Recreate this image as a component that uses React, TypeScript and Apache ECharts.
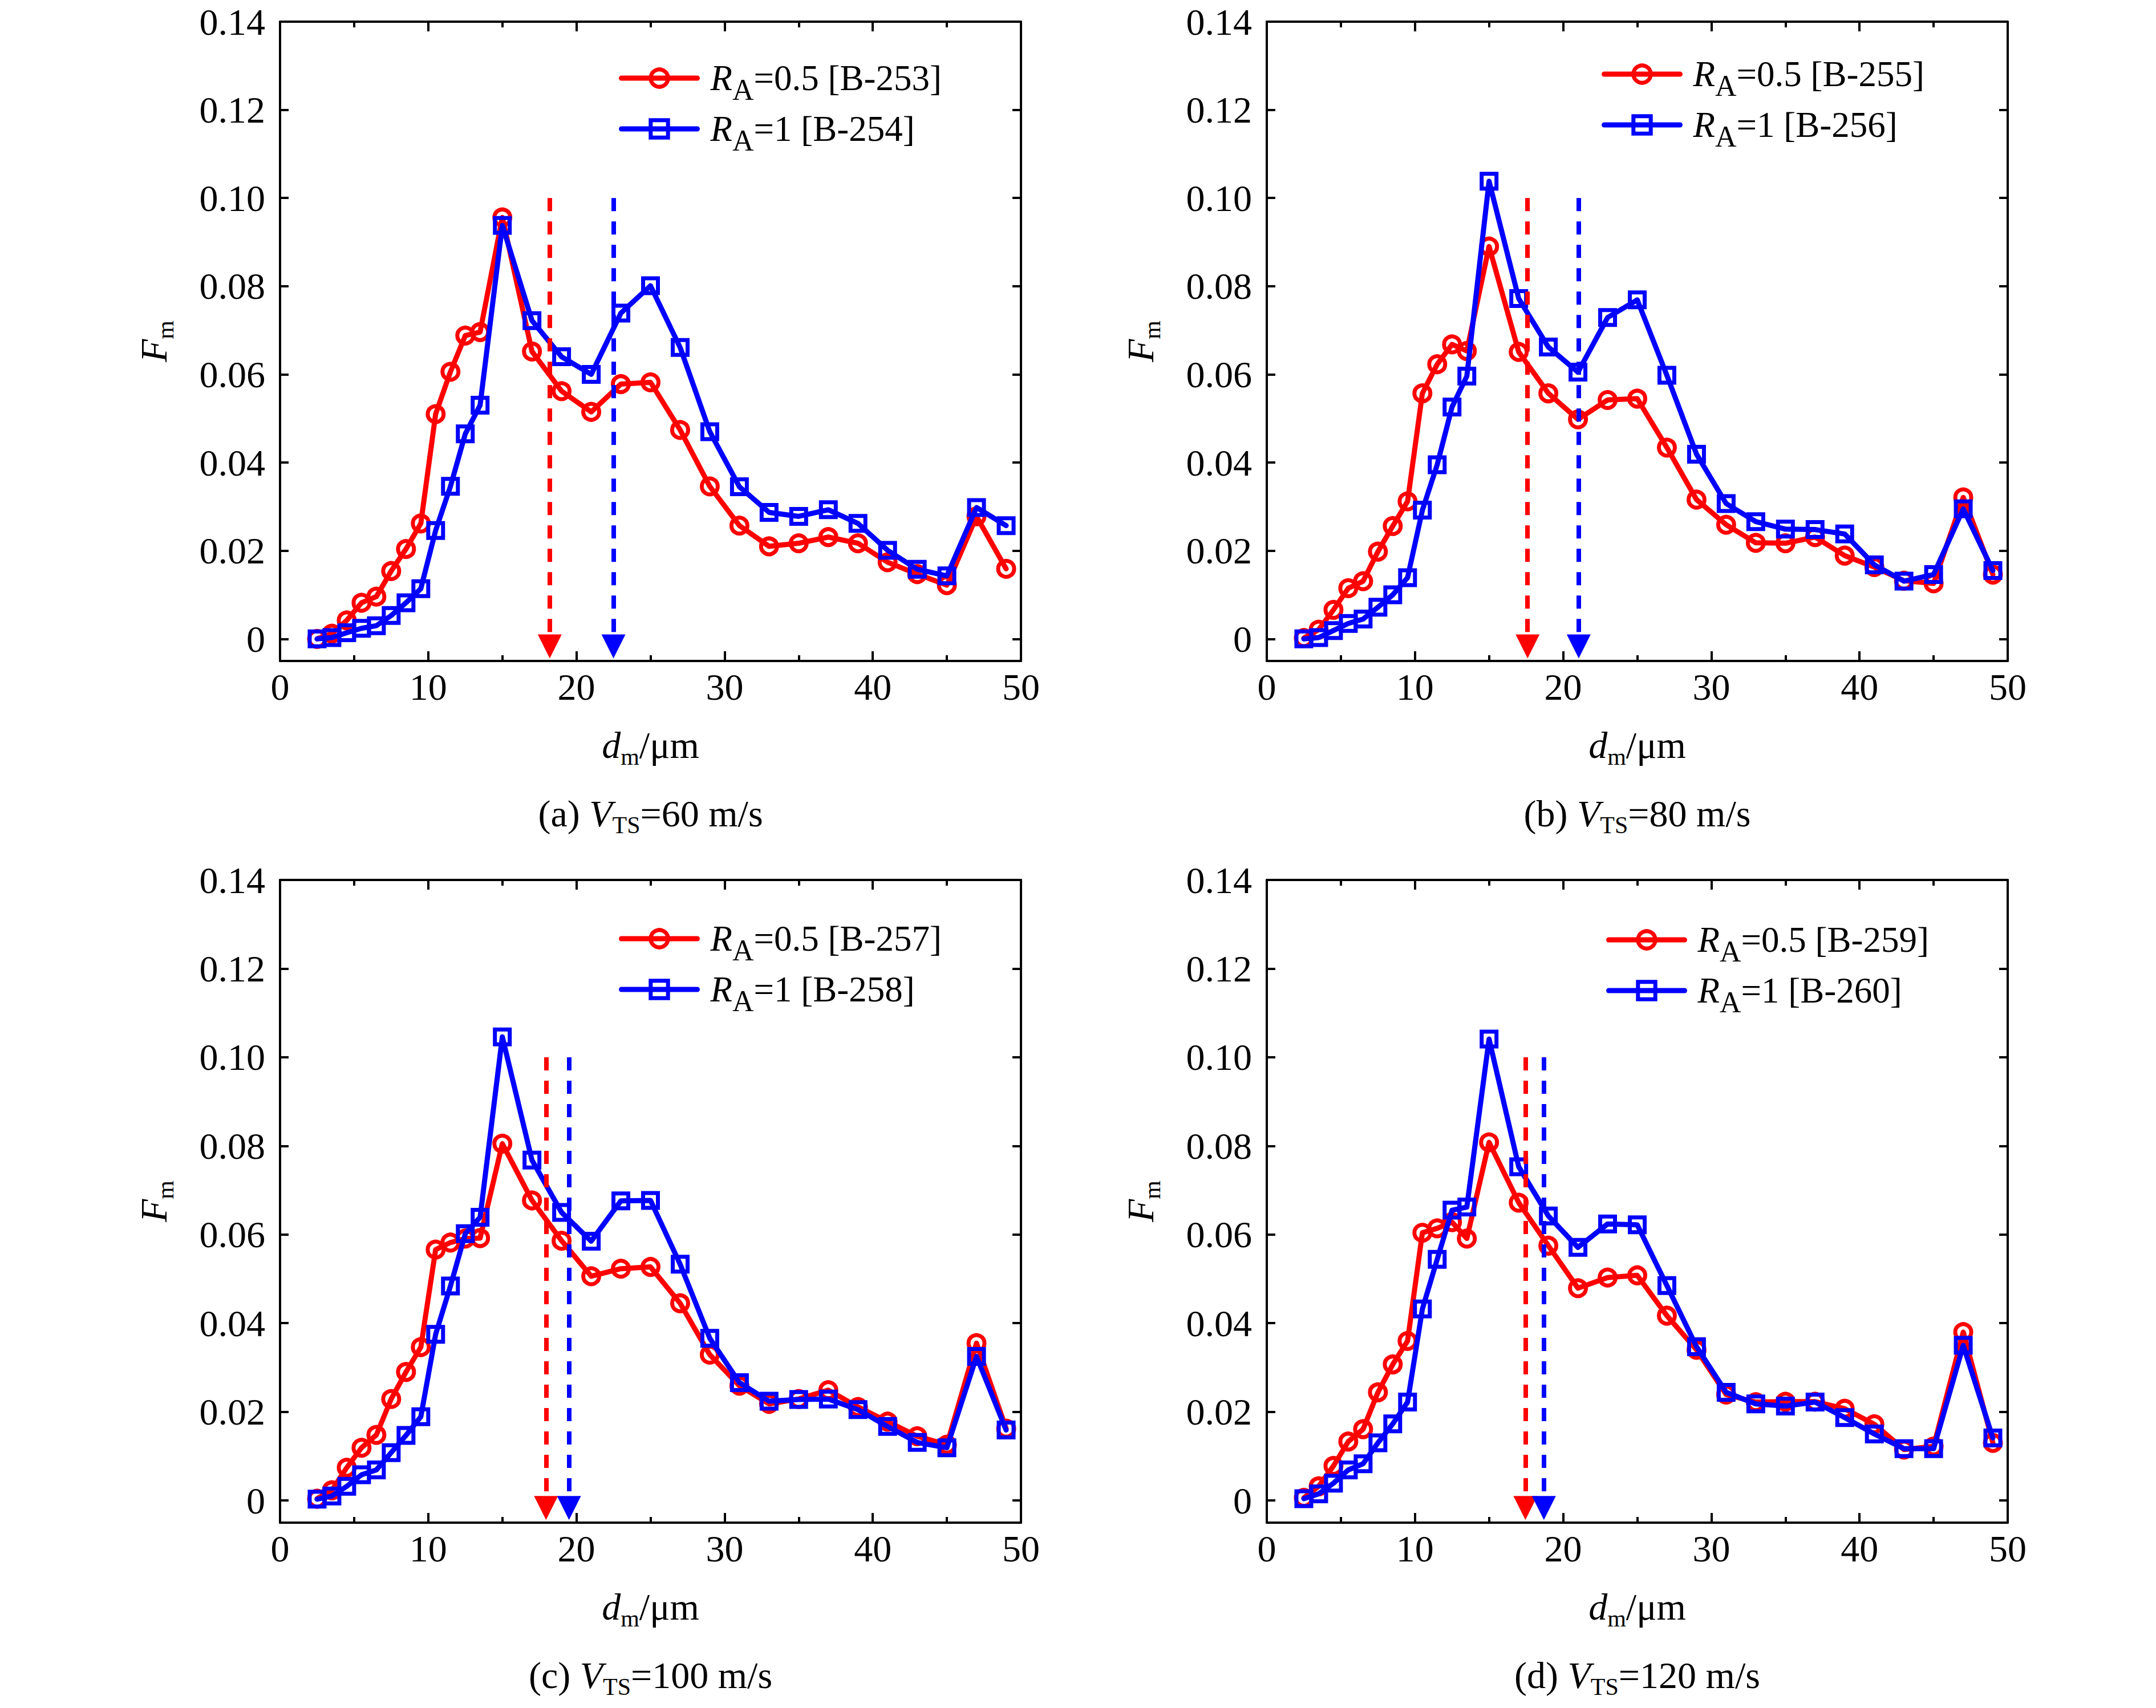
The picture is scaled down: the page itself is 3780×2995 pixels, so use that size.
import React, { useEffect, useRef } from 'react';
import * as echarts from 'echarts';

// ---------- data ----------
const D_M = [2.5, 3.5, 4.5, 5.5, 6.5, 7.5, 8.5, 9.5, 10.5, 11.5, 12.5, 13.5, 15, 17, 19, 21, 23, 25, 27, 29, 31, 33, 35, 37, 39, 41, 43, 45, 47, 49];

const FM_A_RA05 = [0, 0.0012, 0.0042, 0.0082, 0.0096, 0.0154, 0.0204, 0.0262, 0.051, 0.0606, 0.0688, 0.0696, 0.0956, 0.0652, 0.0562, 0.0515, 0.0578, 0.0582, 0.0474, 0.0346, 0.0257, 0.021, 0.0217, 0.0231, 0.0217, 0.0174, 0.0147, 0.0122, 0.0278, 0.0159];
const FM_A_RA1 = [0, 0.0003, 0.0014, 0.0024, 0.003, 0.0053, 0.0082, 0.0114, 0.0246, 0.0346, 0.0465, 0.053, 0.0938, 0.0722, 0.064, 0.06, 0.0739, 0.0801, 0.0661, 0.047, 0.0345, 0.0287, 0.0278, 0.0293, 0.0262, 0.0201, 0.0158, 0.0143, 0.0298, 0.0257];

const FM_B_RA05 = [0.0002, 0.0021, 0.0066, 0.0115, 0.0131, 0.0198, 0.0256, 0.0312, 0.0557, 0.0623, 0.0668, 0.0653, 0.089, 0.0651, 0.0557, 0.0498, 0.0542, 0.0545, 0.0434, 0.0316, 0.0259, 0.0218, 0.0217, 0.0231, 0.0189, 0.0163, 0.0132, 0.0126, 0.0321, 0.0146];
const FM_B_RA1 = [0, 0.0003, 0.0019, 0.0035, 0.0045, 0.0072, 0.01, 0.0139, 0.0292, 0.0395, 0.0526, 0.0596, 0.1038, 0.0772, 0.0662, 0.0605, 0.0729, 0.0769, 0.0598, 0.0419, 0.0307, 0.0266, 0.0249, 0.0248, 0.0238, 0.0168, 0.0131, 0.0146, 0.0295, 0.0155];

const FM_C_RA05 = [0.0004, 0.0023, 0.0074, 0.0119, 0.0148, 0.0229, 0.029, 0.0346, 0.0566, 0.0582, 0.0591, 0.0592, 0.0805, 0.0677, 0.0586, 0.0506, 0.0523, 0.0527, 0.0445, 0.0329, 0.0259, 0.0218, 0.0229, 0.0249, 0.0211, 0.0178, 0.0145, 0.0126, 0.0355, 0.0162];
const FM_C_RA1 = [0.0003, 0.001, 0.0032, 0.0058, 0.0069, 0.0108, 0.0147, 0.0189, 0.0375, 0.0484, 0.0602, 0.0639, 0.1046, 0.0768, 0.065, 0.0585, 0.0676, 0.0677, 0.0533, 0.0366, 0.0266, 0.0224, 0.0228, 0.0229, 0.0205, 0.0167, 0.0131, 0.0119, 0.0325, 0.0159];

const FM_D_RA05 = [0.0006, 0.0032, 0.0078, 0.0133, 0.0161, 0.0244, 0.0307, 0.036, 0.0604, 0.0614, 0.0628, 0.0591, 0.0808, 0.0672, 0.0575, 0.0479, 0.0503, 0.0508, 0.0417, 0.034, 0.0239, 0.0222, 0.0223, 0.0223, 0.0207, 0.0172, 0.0115, 0.0122, 0.038, 0.013];
const FM_D_RA1 = [0.0004, 0.0015, 0.0039, 0.0069, 0.0083, 0.013, 0.0173, 0.0222, 0.0432, 0.0544, 0.0655, 0.0662, 0.1041, 0.0753, 0.0642, 0.0571, 0.0624, 0.0622, 0.0485, 0.0347, 0.0244, 0.0218, 0.0213, 0.0222, 0.0187, 0.015, 0.0117, 0.0117, 0.035, 0.0141];

const PANEL_LETTERS = ['a', 'b', 'c', 'd'];
const SPEEDS = [60, 80, 100, 120];
const CASES_RA05 = ['B-253', 'B-255', 'B-257', 'B-259'];
const CASES_RA1 = ['B-254', 'B-256', 'B-258', 'B-260'];
const SERIES_RA05 = [FM_A_RA05, FM_B_RA05, FM_C_RA05, FM_D_RA05];
const SERIES_RA1 = [FM_A_RA1, FM_B_RA1, FM_C_RA1, FM_D_RA1];

// mean-size arrows (x position in µm), from F = 0.10 down to the axis
const ARROW_X_RA05 = [18.2, 17.6, 17.95, 17.45];
const ARROW_X_RA1 = [22.5, 21.05, 19.5, 18.7];
const ARROW_TOP = 0.1;

const Y_TICKS = [0, 0.02, 0.04, 0.06, 0.08, 0.1, 0.12, 0.14];
const Y_MIN = -0.005;
const Y_MAX = 0.14;
const X_MIN = 0;
const X_MAX = 50;
const X_INTERVAL = 10;

// ---------- layout / style ----------
const FONT = '"Liberation Serif", "Times New Roman", serif';
const RED = '#ff0000';
const BLUE = '#0000ff';
const GRID_LEFT = [491, 2221, 491, 2221];
const GRID_TOP = [38, 38, 1543, 1543];
const GRID_W = 1299;
const GRID_H = [1121, 1121, 1127, 1127];
const LEGEND_LEFT = [1085, 2808, 1085, 2816];
const LEGEND_TOP = [91, 84, 1600, 1602];
const CAPTION_TOP = [1391, 1391, 2902, 2902];
const ARROW_END = -0.0017;
const LINE_W = 9;
const MARK_W = 7;

const FS = 66;
const LH = 70;
const richAxis = {
  i: { fontFamily: FONT, fontSize: FS, fontStyle: 'italic', fontWeight: 'normal', color: '#000', lineHeight: LH },
  s: { fontFamily: FONT, fontSize: 42, fontWeight: 'normal', color: '#000', lineHeight: LH, padding: [42, 0, 0, 0] },
  n: { fontFamily: FONT, fontSize: FS, fontWeight: 'normal', color: '#000', lineHeight: LH },
};
const LFS = 63;
const richLegend = {
  r: { fontFamily: FONT, fontSize: LFS, fontStyle: 'italic', fontWeight: 'normal', color: '#000', lineHeight: LH, padding: [0, 0, 0, 18] },
  s: { fontFamily: FONT, fontSize: 52, fontWeight: 'normal', color: '#000', lineHeight: LH, padding: [40, 0, 0, 0] },
  n: { fontFamily: FONT, fontSize: LFS, fontWeight: 'normal', color: '#000', lineHeight: LH },
};

const fmtY = (v: number) => (Math.abs(v) < 1e-9 ? '0' : v.toFixed(2));

function buildOption() {
  const grid: any[] = [];
  const xAxis: any[] = [];
  const yAxis: any[] = [];
  const series: any[] = [];
  const legend: any[] = [];
  const title: any[] = [];

  for (let p = 0; p < 4; p++) {
    grid.push({ left: GRID_LEFT[p], top: GRID_TOP[p], width: GRID_W, height: GRID_H[p], containLabel: false });

    const axisLine = { show: true, onZero: false, lineStyle: { color: '#000', width: 4 } };
    ['bottom', 'top'].forEach((pos) => {
      xAxis.push({
        type: 'value',
        gridIndex: p,
        position: pos,
        min: X_MIN,
        max: X_MAX,
        interval: X_INTERVAL,
        axisLine,
        axisTick: { show: true, inside: true, length: 17, lineStyle: { color: '#000', width: 4 } },
        minorTick: { show: true, splitNumber: 2, length: 10, lineStyle: { color: '#000', width: 4 } },
        axisLabel: { show: pos === 'bottom', fontFamily: FONT, fontSize: FS, color: '#000', margin: 20, lineHeight: 50 },
        splitLine: { show: false },
        minorSplitLine: { show: false },
        name: pos === 'bottom' ? '{i|d}{s|m}{n|/μm}' : '',
        nameLocation: 'middle',
        nameGap: 112,
        nameTextStyle: { rich: richAxis, fontFamily: FONT, fontSize: FS, fontWeight: 'normal', color: '#000' },
      });
    });
    ['left', 'right'].forEach((pos) => {
      yAxis.push({
        type: 'value',
        gridIndex: p,
        position: pos,
        min: Y_MIN,
        max: Y_MAX,
        axisLine,
        axisTick: { show: true, inside: true, length: 15, lineStyle: { color: '#000', width: 4 }, customValues: Y_TICKS },
        axisLabel: {
          show: pos === 'left',
          customValues: Y_TICKS,
          formatter: fmtY,
          fontFamily: FONT,
          fontSize: FS,
          color: '#000',
          margin: 26,
          lineHeight: 50,
        },
        splitLine: { show: false },
        name: pos === 'left' ? '{i|F}{s|m}' : '',
        nameLocation: 'middle',
        nameGap: 187,
        nameRotate: 90,
        nameTextStyle: { rich: richAxis, fontFamily: FONT, fontSize: FS, fontWeight: 'normal', color: '#000' },
      });
    });

    const nameRed = `RA=0.5 [${CASES_RA05[p]}]`;
    const nameBlue = `RA=1 [${CASES_RA1[p]}]`;

    const arrow = (x: number, color: string) => ({
      silent: true,
      animation: false,
      symbol: ['none', 'triangle'],
      symbolSize: 42,
      label: { show: false },
      emphasis: { disabled: true },
      lineStyle: { color, width: 8, type: [23, 18], opacity: 1 },
      data: [[{ coord: [x, ARROW_TOP] }, { coord: [x, ARROW_END] }]],
    });

    series.push({
      type: 'line',
      name: nameRed,
      xAxisIndex: p * 2,
      yAxisIndex: p * 2,
      data: D_M.map((x, j) => [x, SERIES_RA05[p][j]]),
      symbol: 'circle',
      symbolSize: 28,
      showAllSymbol: true,
      lineStyle: { color: RED, width: LINE_W, cap: 'round', join: 'round' },
      itemStyle: { color: 'transparent', borderColor: RED, borderWidth: MARK_W },
      emphasis: { disabled: true },
      markLine: arrow(ARROW_X_RA05[p], RED),
      z: 2,
    });
    series.push({
      type: 'line',
      name: nameBlue,
      xAxisIndex: p * 2,
      yAxisIndex: p * 2,
      data: D_M.map((x, j) => [x, SERIES_RA1[p][j]]),
      symbol: 'rect',
      symbolSize: 26,
      showAllSymbol: true,
      lineStyle: { color: BLUE, width: LINE_W, cap: 'round', join: 'round' },
      itemStyle: { color: 'transparent', borderColor: BLUE, borderWidth: MARK_W },
      emphasis: { disabled: true },
      markLine: arrow(ARROW_X_RA1[p], BLUE),
      z: 3,
    });

    legend.push({
      data: [nameRed, nameBlue],
      orient: 'vertical',
      left: LEGEND_LEFT[p],
      top: LEGEND_TOP[p],
      padding: 0,
      itemWidth: 133,
      itemHeight: 38,
      itemGap: -3,
      selectedMode: false,
      lineStyle: { width: LINE_W },
      itemStyle: { borderWidth: MARK_W },
      formatter: (name: string) => `{r|R}{s|A}{n|${name.slice(2)}}`,
      textStyle: { rich: richLegend, fontFamily: FONT, fontSize: LFS, fontWeight: 'normal', color: '#000' },
    });

    title.push({
      text: `{n|(${PANEL_LETTERS[p]}) }{i|V}{s|TS}{n|=${SPEEDS[p]} m/s}`,
      left: GRID_LEFT[p] + GRID_W / 2,
      top: CAPTION_TOP[p],
      textAlign: 'center',
      padding: 0,
      textStyle: { rich: richAxis, fontFamily: FONT, fontSize: FS, fontWeight: 'normal', color: '#000' },
    });
  }

  return {
    animation: false,
    backgroundColor: '#ffffff',
    textStyle: { fontFamily: FONT },
    grid,
    xAxis,
    yAxis,
    series,
    legend,
    title,
  };
}

export default function App() {
  const ref = useRef<HTMLDivElement>(null);
  useEffect(() => {
    document.body.style.margin = '0';
    if (!ref.current) return;
    const chart = echarts.init(ref.current, null, { renderer: 'svg' });
    chart.setOption(buildOption() as any);
    return () => chart.dispose();
  }, []);
  return <div ref={ref} style={{ width: 3780, height: 2995 }} />;
}
